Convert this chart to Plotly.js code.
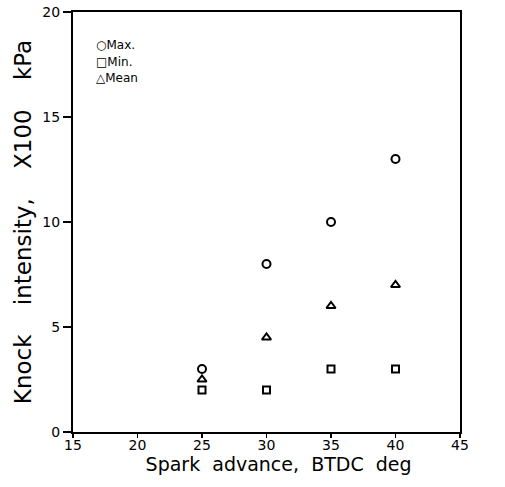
<!DOCTYPE html>
<html>
<head>
<meta charset="utf-8">
<script src="https://cdn.plot.ly/plotly-3.0.1.min.js"></script>
<style>html,body{margin:0;padding:0;background:#fff}#chart{width:505px;height:487px}</style>
</head>
<body>
<div id="chart"></div>
<script>
const sparkAdvance = [25, 30, 35, 40];
const maxValues = [3, 8, 10, 13];
const minValues = [2, 2, 3, 3];
const meanValues = [2.5, 4.5, 6, 7];
const seriesNames = ['Max.', 'Min.', 'Mean'];
const legendSymbols = ['\u25CB', '\u25A1', '\u25B3'];
const xTicks = [15, 20, 25, 30, 35, 40, 45];
const yTicks = [0, 5, 10, 15, 20];

const fontFam = 'DejaVu Sans, Liberation Sans, sans-serif';
const mk = (sym, sz) => ({symbol: sym, size: sz, color: '#000', line: {color: '#000', width: 2}});
const traces = [
  {x: sparkAdvance, y: maxValues, name: seriesNames[0], mode: 'markers', type: 'scatter', marker: mk('circle-open', 8), showlegend: false},
  {x: sparkAdvance, y: minValues, name: seriesNames[1], mode: 'markers', type: 'scatter', marker: mk('square-open', 7), showlegend: false},
  {x: sparkAdvance, y: meanValues, name: seriesNames[2], mode: 'markers', type: 'scatter', marker: mk('triangle-up-open', 8), showlegend: false}
];
const legendY = [0.921, 0.881, 0.843];
const annotations = seriesNames.map((n, i) => ({
  xref: 'paper', yref: 'paper', x: 0.055, y: legendY[i], xanchor: 'left', yanchor: 'middle',
  text: legendSymbols[i] + n, showarrow: false, align: 'left',
  font: {size: 12, family: fontFam, color: '#000'}
}));
const sp = (n) => '\u00A0'.repeat(n);
const layout = {
  width: 505, height: 487,
  margin: {l: 73, r: 45, t: 12, b: 55},
  paper_bgcolor: '#fff', plot_bgcolor: '#fff',
  font: {family: fontFam, color: '#000'},
  showlegend: false,
  xaxis: {
    range: [15, 45], tickvals: xTicks, ticktext: xTicks.map(String),
    showgrid: false, zeroline: false, showline: true, mirror: true,
    linecolor: '#000', linewidth: 2, ticks: 'outside', ticklen: 4, tickwidth: 1.5, tickcolor: '#000',
    tickfont: {size: 14, family: fontFam}, ticklabelstandoff: -5,
    title: {text: '\u200B' + sp(4) + 'Spark' + sp(2) + 'advance,' + sp(2) + 'BTDC' + sp(2) + 'deg', font: {size: 19, family: fontFam}, standoff: 0}
  },
  yaxis: {
    range: [0, 20], tickvals: yTicks, ticktext: yTicks.map(String),
    showgrid: false, zeroline: false, showline: true, mirror: true,
    linecolor: '#000', linewidth: 2, ticks: 'outside', ticklen: 8, tickwidth: 1.5, tickcolor: '#000',
    tickfont: {size: 14, family: fontFam},
    title: {text: 'Knock' + sp(4) + 'intensity,' + sp(4) + 'X100' + sp(4) + 'kPa', font: {size: 23, family: fontFam}, standoff: 4}
  },
  annotations: annotations
};
Plotly.newPlot('chart', traces, layout, {displayModeBar: false, staticPlot: true});
</script>
</body>
</html>
